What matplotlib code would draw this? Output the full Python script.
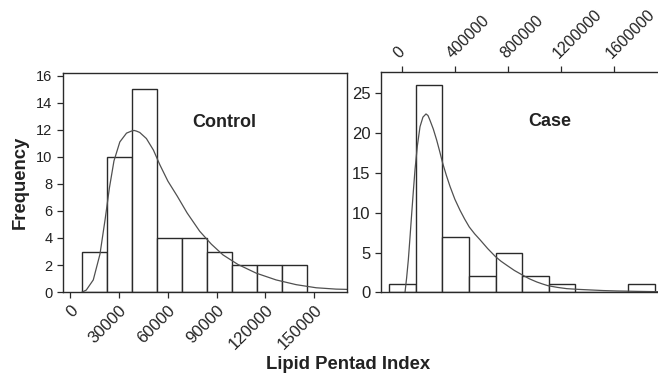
import matplotlib
matplotlib.use("Agg")
import matplotlib.pyplot as plt

plt.rcParams['font.family'] = ['Liberation Sans', 'DejaVu Sans']

# Control histogram (bin edges and counts)
control_edges = [7500, 22800, 38100, 53400, 68700, 84000, 99300, 114600, 129900, 145200]
control_counts = [3, 10, 15, 4, 4, 3, 2, 2, 2]
# fitted density curve
control_curve_x = [7500, 10000, 14300, 18400, 21600, 24200, 27000, 30600, 34700, 37700,
                   39300, 40800, 42800, 46900, 51200, 55200, 60100, 65800, 71900, 79600,
                   86700, 93900, 103000, 114300, 126500, 138800, 151100, 163300, 170000]
control_curve_y = [0, 0.15, 0.9, 2.8, 5.4, 7.7, 9.7, 11.1, 11.75, 11.9,
                   11.95, 11.9, 11.8, 11.35, 10.5, 9.4, 8.2, 7.1, 5.85, 4.5,
                   3.55, 2.75, 2.05, 1.4, 0.9, 0.55, 0.32, 0.22, 0.2]
control_xticks = [0, 30000, 60000, 90000, 120000, 150000]
control_yticks = [0, 2, 4, 6, 8, 10, 12, 14, 16]

# Case histogram
case_edges = [-93000, 107000, 307000, 507000, 707000, 907000, 1107000, 1307000,
              1507000, 1707000, 1907000]
case_counts = [1, 26, 7, 2, 5, 2, 1, 0, 0, 1]
case_curve_x = [24900, 37000, 50000, 62500, 75300, 87700, 100200, 118000, 137900, 160000,
                183000, 198000, 213000, 238000, 263600, 286000, 308800, 336000, 363800,
                400000, 439200, 474000, 509000, 549000, 589800, 647000, 705100, 748000,
                791000, 848000, 906200, 961000, 1017000, 1060000, 1102000, 1172000,
                1243000, 1330000, 1418000, 1519000, 1619000, 1770000, 1930000]
case_curve_y = [0, 1.8, 4.1, 6.9, 9.9, 12.7, 15.4, 18.4, 20.8, 22.0,
                22.4, 22.2, 21.6, 20.5, 19.1, 17.7, 16.2, 14.7, 13.3,
                11.7, 10.3, 9.2, 8.2, 7.35, 6.6, 5.5, 4.5, 3.9,
                3.4, 2.75, 2.2, 1.7, 1.3, 1.05, 0.83, 0.62,
                0.46, 0.37, 0.3, 0.22, 0.17, 0.12, 0.08]
case_xticks = [0, 400000, 800000, 1200000, 1600000]
case_yticks = [0, 5, 10, 15, 20, 25]

edge = '#2a2a2a'
line = '#505050'
txt = '#222222'

fig = plt.figure(figsize=(6.58, 3.74), dpi=100)

# left panel: control
ax1 = fig.add_axes([0.0957, 0.219, 0.4316, 0.586])
widths = [b - a for a, b in zip(control_edges[:-1], control_edges[1:])]
ax1.bar(control_edges[:-1], control_counts, width=widths, align='edge',
        facecolor='white', edgecolor=edge, linewidth=1.0)
ax1.plot(control_curve_x, control_curve_y, color=line, linewidth=0.9)
ax1.set_xlim(-4300, 170000)
ax1.set_ylim(0, 16.2)
ax1.set_xticks(control_xticks)
ax1.set_xticklabels([str(v) for v in control_xticks], rotation=45, ha='right',
                    rotation_mode='anchor', fontsize=12, color=txt)
ax1.set_yticks(control_yticks)
ax1.tick_params(axis='y', labelsize=10.5, labelcolor=txt)
ax1.tick_params(direction='out', length=4, width=0.9, color=edge)
for s in ax1.spines.values():
    s.set_color(edge)
    s.set_linewidth(1.0)
ax1.set_ylabel('Frequency', fontsize=13.3, fontweight='bold', color=txt, labelpad=5)
ax1.text(0.567, 0.776, 'Control', transform=ax1.transAxes, ha='center', va='center',
         fontsize=13, fontweight='bold', color=txt)

# right panel: case
ax2 = fig.add_axes([0.5786, 0.2184, 0.4214, 0.5898])
widths = [b - a for a, b in zip(case_edges[:-1], case_edges[1:])]
ax2.bar(case_edges[:-1], case_counts, width=widths, align='edge',
        facecolor='white', edgecolor=edge, linewidth=1.0)
ax2.plot(case_curve_x, case_curve_y, color=line, linewidth=0.9)
ax2.set_xlim(-158000, 1930000)
ax2.set_ylim(0, 27.7)
ax2.xaxis.tick_top()
ax2.set_xticks(case_xticks)
ax2.set_xticklabels([str(v) for v in case_xticks], rotation=45, ha='left',
                    rotation_mode='anchor', fontsize=11.5, color=txt)
ax2.set_yticks(case_yticks)
ax2.tick_params(axis='y', labelsize=12, labelcolor=txt)
ax2.tick_params(direction='out', length=4, width=0.9, color=edge)
ax2.spines['right'].set_visible(False)
for s in ax2.spines.values():
    s.set_color(edge)
    s.set_linewidth(1.0)
ax2.text(0.61, 0.776, 'Case', transform=ax2.transAxes, ha='center', va='center',
         fontsize=13, fontweight='bold', color=txt)

fig.text(0.529, 0.013, 'Lipid Pentad Index', ha='center', va='baseline',
         fontsize=13.3, fontweight='bold', color=txt)

fig.savefig('out.png', dpi=100)
